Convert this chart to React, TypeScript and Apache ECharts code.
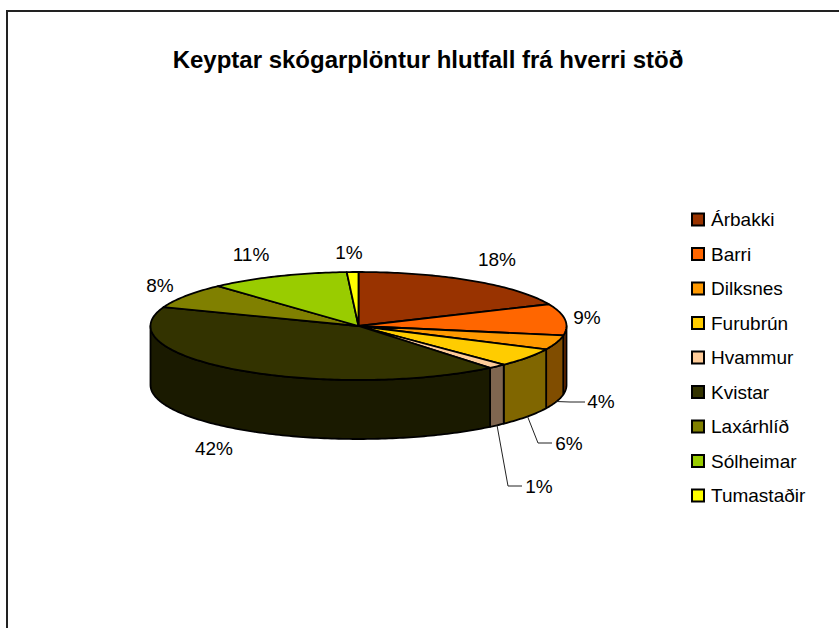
import React, { useEffect, useRef } from "react";
import * as echarts from "echarts";

const titleText = "Keyptar skógarplöntur hlutfall frá hverri stöð";
const categories = ["Árbakki", "Barri", "Dilksnes", "Furubrún", "Hvammur", "Kvistar", "Laxárhlíð", "Sólheimar", "Tumastaðir"];
const shares = [18.4, 9.4, 4.3, 5.6, 1.4, 41.6, 7.5, 10.9, 0.9];
const topColors = ["#993300", "#FF6600", "#FF9900", "#FFCC00", "#FFCC99", "#333300", "#808000", "#99CC00", "#FFFF00"];
const wallColors = ["#4D1A00", "#803300", "#804D00", "#806600", "#806650", "#1A1A00", "#404000", "#4D6600", "#808000"];

const FONT = "'Liberation Sans', Arial, sans-serif";
const CX = 358.5, CY = 326, RX = 208, RY = 54, DEPTH = 59;
// label centres, and the elbow of any leader line
const labelLayout: { x: number; y: number; elbow?: [number, number]; end?: [number, number] }[] = [
  { x: 497, y: 259 },
  { x: 587, y: 317 },
  { x: 601, y: 401, elbow: [570, 402], end: [585, 402] },
  { x: 569, y: 443, elbow: [538, 443], end: [552, 443] },
  { x: 539, y: 486, elbow: [508, 486], end: [522, 486] },
  { x: 214, y: 448 },
  { x: 160, y: 285 },
  { x: 251, y: 254 },
  { x: 349, y: 252 },
];

const total = shares.reduce((a, b) => a + b, 0);
const cumulative = shares.reduce<number[]>((acc, v, i) => { acc.push(i === 0 ? 0 : acc[i - 1] + shares[i - 1]); return acc; }, []);
const rim = (deg: number, dy = 0): [number, number] => {
  const r = (deg * Math.PI) / 180;
  return [CX + RX * Math.sin(r), CY - RY * Math.cos(r) + dy];
};
const arc = (a: number, b: number, dy = 0) => {
  const out: [number, number][] = [];
  const n = Math.max(2, Math.ceil(Math.abs(b - a)));
  for (let i = 0; i <= n; i++) out.push(rim(a + ((b - a) * i) / n, dy));
  return out;
};

const renderSlice = (params: any, api: any) => {
  const i = params.seriesIndex;
  const value = api.value(0);
  const a = (cumulative[i] / total) * 360;
  const b = ((cumulative[i] + value) / total) * 360;
  const children: any[] = [];
  const w0 = Math.max(a, 90), w1 = Math.min(b, 270);
  if (w0 < w1) {
    children.push({
      type: "polygon",
      shape: { points: [...arc(w0, w1), ...arc(w1, w0, DEPTH)] },
      style: { fill: wallColors[i], stroke: "#000", lineWidth: 1.8, lineJoin: "round" },
    });
  }
  children.push({
    type: "polygon",
    shape: { points: [[CX, CY], ...arc(a, b)] },
    style: { fill: topColors[i], stroke: "#000", lineWidth: 1.8, lineJoin: "round" },
  });
  const lay = labelLayout[i];
  if (lay.elbow && lay.end) {
    children.push({
      type: "polyline",
      shape: { points: [rim((a + b) / 2, DEPTH), lay.elbow, lay.end] },
      style: { fill: "none", stroke: "#222", lineWidth: 1 },
    });
  }
  children.push({
    type: "text",
    style: {
      x: lay.x, y: lay.y, text: Math.round((value / total) * 100) + "%",
      fill: "#000", font: `19px ${FONT}`, align: "center", verticalAlign: "middle",
    },
  });
  return { type: "group", children };
};

export default function App() {
  const ref = useRef<HTMLDivElement>(null);
  useEffect(() => {
    const chart = echarts.init(ref.current!, undefined, { renderer: "svg" });
    chart.setOption({
      animation: false,
      backgroundColor: "#fff",
      title: {
        text: titleText, left: 428, top: 47, textAlign: "center", padding: 0,
        textStyle: { fontFamily: FONT, fontWeight: "bold", fontSize: 24, color: "#000" },
      },
      legend: {
        orient: "vertical", left: 691, top: 210, padding: 0,
        itemWidth: 12, itemHeight: 12, itemGap: 15.5, icon: "rect",
        itemStyle: { borderColor: "#000", borderWidth: 2 },
        textStyle: { fontFamily: FONT, fontSize: 19, color: "#000", padding: [0, 0, 0, 2] },
        data: categories, selectedMode: false,
      },
      graphic: [{
        type: "rect", z: -10, silent: true,
        shape: { x: 7, y: 11, width: 900, height: 700 },
        style: { fill: "none", stroke: "#222", lineWidth: 2 },
      }],
      series: categories.map((name, i) => ({
        type: "custom", name, coordinateSystem: "none", silent: true,
        itemStyle: { color: topColors[i] },
        data: [[shares[i]]],
        renderItem: renderSlice,
      })),
    });
    return () => chart.dispose();
  }, []);
  return <div ref={ref} style={{ position: "absolute", left: 0, top: 0, width: 839, height: 628 }} />;
}
